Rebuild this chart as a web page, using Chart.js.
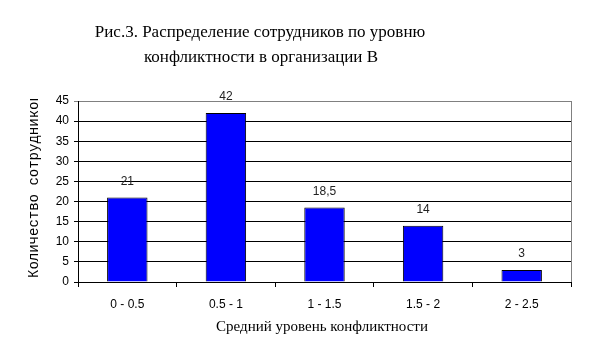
<!DOCTYPE html>
<html><head><meta charset="utf-8">
<script src="https://cdn.jsdelivr.net/npm/chart.js@4/dist/chart.umd.min.js"></script>
<style>html,body{margin:0;padding:0;background:#fff}#wrap{width:590px;height:360px}</style>
</head><body><div id="wrap"><canvas id="c" width="590" height="360"></canvas></div>
<script>
const categories = ["0 - 0.5", "0.5 - 1", "1 - 1.5", "1.5 - 2", "2 - 2.5"];
const values = [21, 42, 18.5, 14, 3];
const valueLabels = ["21", "42", "18,5", "14", "3"];
const titleLines = ["Рис.3. Распределение сотрудников по уровню", "конфликтности в организации В"];
const xTitle = "Средний уровень конфликтности";
const yTitle = "Количество сотрудников";

const decor = {
  id: 'decor',
  afterDraw(chart) {
    const ctx = chart.ctx, a = chart.chartArea;
    ctx.save();
    ctx.strokeStyle = '#808080'; ctx.lineWidth = 1;
    ctx.beginPath(); ctx.moveTo(Math.round(a.right) + 0.5, a.top); ctx.lineTo(Math.round(a.right) + 0.5, a.bottom); ctx.stroke();
    ctx.fillStyle = '#000'; ctx.textAlign = 'center'; ctx.textBaseline = 'alphabetic';
    ctx.font = '17px "Liberation Serif"';
    ctx.fillText(titleLines[0], 260, 37);
    ctx.fillText(titleLines[1], 261, 62);
    ctx.font = '15px "Liberation Serif"';
    ctx.fillText(xTitle, 322, 331);
    ctx.font = '12px "Liberation Sans"'; ctx.fillStyle = '#222'; ctx.textBaseline = 'middle';
    const meta = chart.getDatasetMeta(0);
    meta.data.forEach((bar, i) => { ctx.fillText(valueLabels[i], bar.x, bar.y - 16); });
    ctx.beginPath(); ctx.rect(0, 99, 80, 200); ctx.clip();
    ctx.translate(38, 278); ctx.rotate(-Math.PI / 2);
    ctx.textAlign = 'left'; ctx.textBaseline = 'alphabetic'; ctx.fillStyle = '#000';
    ctx.font = '14px "Liberation Mono"';
    ctx.fillText(yTitle, 0, 0);
    ctx.restore();
  }
};

new Chart(document.getElementById('c'), {
  type: 'bar',
  data: { labels: categories, datasets: [{ data: values, backgroundColor: '#0000FF', borderColor: '#000', borderWidth: 1, barPercentage: 0.41, categoryPercentage: 1 }] },
  options: {
    responsive: false, animation: false, devicePixelRatio: 1,
    layout: { padding: { top: 101, right: 19, left: 0, bottom: 0 } },
    plugins: { legend: { display: false }, title: { display: false }, tooltip: { enabled: false } },
    scales: {
      x: {
        afterFit: s => { s.height = 78; },
        grid: { display: true, drawOnChartArea: false, drawTicks: true, tickLength: 5, color: '#000', offset: true },
        border: { color: '#000' },
        ticks: { color: '#000', font: { family: 'Liberation Sans', size: 12 }, padding: 10 }
      },
      y: {
        min: 0, max: 45,
        afterFit: s => { s.width = 78; },
        grid: { color: c => (c.tick && c.tick.value === 45) ? '#808080' : '#000', tickLength: 4 },
        border: { color: '#000' },
        ticks: { stepSize: 5, color: '#000', font: { family: 'Liberation Sans', size: 12 }, padding: 5 }
      }
    }
  },
  plugins: [decor]
});
</script></body></html>
